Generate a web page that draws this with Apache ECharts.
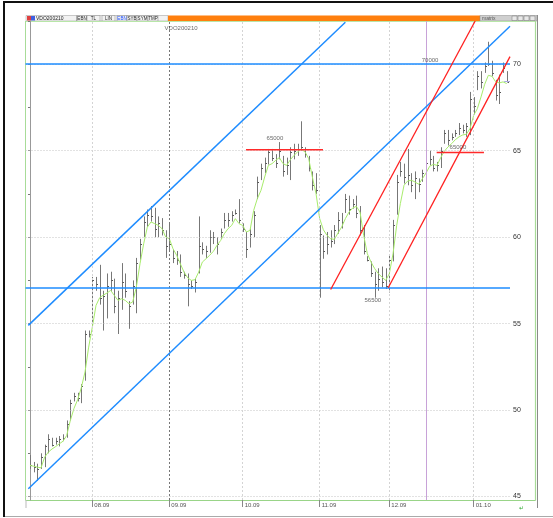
<!DOCTYPE html>
<html><head><meta charset="utf-8">
<script src="https://cdn.jsdelivr.net/npm/echarts@6/dist/echarts.min.js"></script>
<style>html,body{margin:0;padding:0;background:#fff}#c{width:553px;height:518px}</style>
</head><body><div id="c"></div>
<script>
// ---- data ----
const highs = [47.4,47.0,46.9,47.5,48.0,48.6,48.4,48.4,48.5,48.6,
49.4,50.6,51.0,51.0,51.5,54.6,54.6,57.7,57.7,58.4,
56.9,57.9,58.0,57.6,56.9,58.5,57.9,56.3,57.5,58.8,
59.9,61.2,61.6,61.8,61.7,61.2,61.1,60.4,60.8,59.3,
59.2,59.0,58.0,57.9,57.5,57.6,61.2,59.7,59.5,60.4,
60.3,60.0,60.5,61.4,61.4,61.5,61.6,62.2,60.8,60.3,
60.5,61.5,63.5,64.25,64.6,65.1,65.1,64.8,65.5,64.7,
64.6,65.2,65.4,65.4,66.7,65.2,64.7,63.8,63.7,60.7,
60.1,60.3,60.4,60.7,61.45,61.4,62.5,62.4,62.2,62.4,
61.8,60.7,58.9,58.6,58.0,58.2,58.3,58.2,59.0,61.0,
63.6,64.35,64.25,65.1,63.7,63.8,63.4,63.9,64.5,65.0,
64.7,64.35,65.2,66.2,66.2,66.0,66.2,66.6,66.5,66.6,
68.4,68.1,69.6,69.6,70.1,71.3,70.2,69.1,69.4,70.1,69.6];
const lows = [46.6,46.4,45.9,46.6,46.7,47.5,47.9,48.0,47.9,48.2,
48.4,49.4,50.5,50.5,50.4,51.7,54.2,54.8,56.9,56.1,
54.6,55.3,56.9,55.6,54.4,55.8,56.5,54.7,56.1,55.6,
58.7,60.0,60.6,60.9,60.0,60.0,60.1,58.8,59.2,58.5,
58.4,57.7,57.6,56.0,57.0,56.8,57.9,59.0,58.8,59.1,
59.6,59.0,59.9,60.5,60.6,60.9,61.3,60.8,60.3,58.8,
59.4,60.0,62.2,63.3,63.7,64.2,64.4,64.0,64.5,63.5,
63.6,63.3,64.5,64.7,65.0,64.6,63.8,62.7,62.5,56.5,
58.75,59.0,59.4,59.6,60.2,60.5,61.4,61.3,61.65,61.1,
60.1,59.0,58.6,57.7,56.5,56.9,57.1,57.0,56.8,58.6,
61.3,63.5,63.1,63.0,62.6,62.2,62.6,63.2,63.8,64.15,
63.8,63.8,64.0,65.4,65.3,65.6,65.8,65.9,66.0,65.8,
65.9,67.1,68.5,68.6,69.5,69.9,69.3,67.9,67.7,69.5,69.0];
const closes = [46.8,46.7,46.6,47.3,47.9,48.3,48.0,48.2,48.3,48.4,
49.2,50.4,50.8,50.7,51.4,54.4,54.4,57.5,57.3,56.5,
56.6,57.2,57.5,56.0,56.5,57.4,56.9,56.0,57.2,58.5,
59.6,60.9,61.3,61.2,60.5,60.8,60.4,59.5,59.6,58.8,
58.7,58.0,57.8,57.3,57.2,57.4,59.5,59.3,59.2,60.0,
60.0,59.6,60.3,61.0,61.0,61.3,61.4,61.0,60.5,59.3,
60.2,61.3,63.2,64.0,64.3,64.9,64.6,64.3,65.0,63.8,
64.2,64.9,65.0,65.1,65.2,64.8,64.0,63.0,62.7,60.2,
59.2,59.6,59.8,60.4,61.0,60.9,62.2,61.6,61.9,61.4,
60.4,59.2,58.7,57.9,57.3,57.6,57.4,57.2,58.7,60.7,
63.2,63.8,63.5,63.6,63.0,63.4,63.1,63.7,64.3,64.5,
64.0,64.2,65.0,66.0,65.6,65.8,66.0,66.3,66.2,66.4,
68.0,67.6,69.3,69.0,69.9,70.0,69.5,68.2,68.4,69.8,69.0];
const maValues = [46.8,46.75,46.7,46.66,47.28,47.57,47.75,47.89,48.05,48.2,
48.53,49.4,50.1,50.6,51.3,52.2,53.64,54.8,56.05,56.5,
56.65,56.77,56.92,56.63,56.34,56.44,56.34,56.15,56.25,57.11,
58.46,59.62,60.58,60.88,60.78,60.68,60.49,60.01,59.91,59.33,
58.95,58.46,57.98,57.65,57.5,57.54,57.98,58.56,58.75,58.95,
59.18,59.53,59.81,60.2,60.49,60.68,61.07,60.78,60.68,60.3,
60.39,61.55,62.23,62.71,63.48,64.15,64.25,64.44,64.6,64.25,
64.15,64.48,64.73,64.93,65.08,64.93,64.54,63.48,62.52,61.07,
60.43,60.1,59.91,59.87,60.24,60.59,61.07,61.45,61.69,61.78,
61.45,60.1,59.04,58.56,58.18,57.89,57.69,57.5,57.89,59.04,
60.68,61.94,63.0,63.25,63.29,63.19,63.06,63.38,63.71,64.1,
64.21,64.15,64.6,64.97,65.22,65.41,65.64,65.8,65.91,65.95,
66.28,67.05,67.43,68.11,68.84,69.36,69.3,68.98,68.92,68.98,68.88];
const lastPrice = 69.0;
const monthLabels = ['08.09','09.09','10.09','11.09','12.09','01.10'];
const monthIndex = [17,38,58,79,98,121];
const markerIndex = 38;      // dark dashed marker line (VDO200210)
const purpleIndex = 108;     // purple vertical line
const yTickLabels = [45,50,55,60,65,70];
const yMinorTicks = [45,47.5,50,52.5,55,57.5,60,62.5,65,67.5,70,72.5];
const blueChannel = [[[-0.46,54.9],[86.0,72.43]], [[-0.46,45.45],[130.9,72.2]]];
const redChannel = [[[82.0,56.97],[121.4,72.5]], [[97.7,57.07],[130.9,70.44]]];
const blueLevels = [70.0, 57.08];
const redSegments = [[[58.9,65.05],[79.9,65.05]], [[110.9,64.9],[123.8,64.9]]];
const noteTexts = ['65000','65000','56500','70000','VDO200210'];
const notePoints = [[66.8,65.69],[116.7,65.17],[93.5,56.34],[109.1,70.22],[41.2,72.1]];
// -------------------------------------

const FONT = 'Liberation Sans';
const chart = echarts.init(document.getElementById('c'), null, {renderer:'canvas'});
const X0 = 25.5, Y0 = 21, W = 484.5, H = 479;

const barData = highs.map((h,i)=>[i,h,lows[i],closes[i]]);
const series = [];

// grid lines (dummy series with markLines)
series.push({
  type:'line', data:[], silent:true, animation:false,
  markLine:{ symbol:'none', silent:true, animation:false, label:{show:false},
    data: [
      ...yTickLabels.map(v=>({yAxis:v, lineStyle:{color:'#c4c4c4', type:[1,2], width:1}})),
      ...monthIndex.filter(m=>m!==markerIndex).map(m=>({xAxis:m, lineStyle:{color:'#d4d4d4', type:[2,2], width:1}})),
      {xAxis:markerIndex, lineStyle:{color:'#777', type:[2,2], width:1}},
      {xAxis:purpleIndex, lineStyle:{color:'#c8a2d8', type:'solid', width:1}}
    ]}
});

// OHLC bars
series.push({
  type:'custom', data: barData, animation:false, z:3,
  renderItem(params, api){
    const x = api.value(0), h = api.value(1), l = api.value(2), c = api.value(3);
    const pH = api.coord([x,h]), pL = api.coord([x,l]), pC = api.coord([x,c]);
    const px = Math.round(pH[0]) + 0.5;
    const cy = Math.round(pC[1]) + 0.5;
    return {type:'group', children:[
      {type:'line', shape:{x1:px,y1:pH[1],x2:px,y2:pL[1]}, style:{stroke:'#777', lineWidth:1}},
      {type:'line', shape:{x1:px,y1:cy,x2:px+1.5,y2:cy}, style:{stroke:'#555', lineWidth:1}}
    ]};
  }
});

// moving average line
series.push({
  type:'line', data: maValues.map((v,i)=>[i,v]), showSymbol:false, symbol:'none',
  lineStyle:{color:'#a8ec6c', width:1}, animation:false, z:4
});

// blue channel
blueChannel.forEach(seg=>series.push({type:'line', data:seg, symbol:'none', clip:true,
  lineStyle:{color:'#1e8cff', width:1.5}, animation:false, z:5}));
// red channel
redChannel.forEach(seg=>series.push({type:'line', data:seg, symbol:'none', clip:true,
  lineStyle:{color:'#ff2020', width:1.3}, animation:false, z:5}));
// red horizontal segments
redSegments.forEach(seg=>series.push({type:'line', data:seg, symbol:'none', clip:true,
  lineStyle:{color:'#ff2a2a', width:1.5}, animation:false, z:5}));
// blue horizontal levels
series.push({type:'line', data:[], animation:false,
  markLine:{symbol:'none', silent:true, animation:false, label:{show:false},
    data: blueLevels.map(v=>({yAxis:v, lineStyle:{color:'#1e8cff', width:1.5, type:'solid'}}))}, z:5});
// last price marker
series.push({type:'line', data:[[129.3,lastPrice],[130.9,lastPrice]], symbol:'none', clip:true,
  lineStyle:{color:'#a9a9e0', width:1}, animation:false, z:5});

// text notes
series.push({type:'scatter', symbolSize:0, animation:false, z:6,
  data: notePoints.map((p,i)=>({value:p, name:noteTexts[i]})),
  label:{show:true, position:'inside', formatter:p=>p.name, fontSize:6, color:'#444', fontFamily:FONT}
});

// frame / toolbar graphics
const tb = [];
const tbItems = [['EBN',77,87,'#222'],['TL',87,100,'#222'],['LIN',102,115,'#222'],['EBN',117,127,'#1a4cff'],['SYB',127,137,'#222'],['SYM',137,148,'#222'],['TMP',148,158,'#222']];
tb.push({type:'rect', shape:{x:26,y:15.5,width:142,height:5.5}, style:{fill:'#f2f2f2', stroke:'#999', lineWidth:0.5}});
tb.push({type:'rect', shape:{x:27,y:16,width:4,height:4.5}, style:{fill:'#e04040'}});
tb.push({type:'rect', shape:{x:31,y:16,width:4,height:4.5}, style:{fill:'#4060e0'}});
tb.push({type:'text', style:{x:36,y:18.3,text:'VDO200210',fontSize:5,fill:'#222',fontFamily:FONT,verticalAlign:'middle'}});
tb.push({type:'line', shape:{x1:76.5,y1:15.5,x2:76.5,y2:21}, style:{stroke:'#888',lineWidth:0.5}});
tbItems.forEach(([t,a,b,col])=>{
  tb.push({type:'rect', shape:{x:a,y:15.5,width:b-a,height:5.5}, style:{fill:'#f2f2f2', stroke:'#888', lineWidth:0.5}});
  tb.push({type:'text', style:{x:(a+b)/2,y:18.3,text:t,fontSize:4.5,fill:col,fontFamily:FONT,align:'center',verticalAlign:'middle'}});
});
tb.push({type:'rect', shape:{x:168,y:15.5,width:312,height:5.5}, style:{fill:'#ff7f0e'}});
tb.push({type:'rect', shape:{x:480,y:15.5,width:57,height:5.5}, style:{fill:'#cfcfcf', stroke:'#888', lineWidth:0.5}});
tb.push({type:'text', style:{x:482,y:18.3,text:'matrix',fontSize:5,fill:'#555',fontFamily:FONT,verticalAlign:'middle'}});
[512,518,524,530].forEach(x=>tb.push({type:'rect', shape:{x:x,y:16,width:5,height:4.5}, style:{fill:'#e8e8e8', stroke:'#777', lineWidth:0.5}}));
// outer frame
tb.push({type:'rect', shape:{x:3,y:1,width:550,height:2}, style:{fill:'#111'}});
tb.push({type:'rect', shape:{x:3,y:1,width:2,height:516}, style:{fill:'#111'}});
tb.push({type:'line', shape:{x1:5,y1:516.5,x2:553,y2:516.5}, style:{stroke:'#aaa',lineWidth:1}});
// panel borders
tb.push({type:'line', shape:{x1:25.5,y1:21.5,x2:535.5,y2:21.5}, style:{stroke:'#b8e6a8',lineWidth:1}});
tb.push({type:'line', shape:{x1:25.5,y1:21,x2:25.5,y2:500}, style:{stroke:'#a8dc98',lineWidth:1}});
tb.push({type:'line', shape:{x1:535.5,y1:21,x2:535.5,y2:500.5}, style:{stroke:'#a8dc98',lineWidth:1.2}});
tb.push({type:'line', shape:{x1:25.5,y1:500.5,x2:535.5,y2:500.5}, style:{stroke:'#99d488',lineWidth:1.2}});
tb.push({type:'line', shape:{x1:537.5,y1:15,x2:537.5,y2:508}, style:{stroke:'#8a8a8a',lineWidth:1}});
tb.push({type:'line', shape:{x1:26,y1:500,x2:26,y2:508}, style:{stroke:'#bbb',lineWidth:1}});
tb.push({type:'text', style:{x:519,y:508,text:'↵',fontSize:6,fill:'#3a3',fontFamily:'DejaVu Sans',verticalAlign:'middle'}});

chart.setOption({
  animation:false,
  backgroundColor:'#fff',
  grid:{left:X0, top:Y0, width:W, height:H, containLabel:false},
  xAxis:{type:'value', min:-1.227, max:130.9,
    axisLine:{show:false},
    axisTick:{show:true, customValues:monthIndex, length:7, lineStyle:{color:'#888'}},
    axisLabel:{show:true, customValues:monthIndex, formatter:v=>monthLabels[monthIndex.indexOf(v)]||'',
      fontSize:6, color:'#555', fontFamily:FONT, align:'left', margin:2, padding:[0,0,0,2]},
    splitLine:{show:false}},
  yAxis:{type:'value', position:'right', min:44.8, max:72.5, scale:true,
    axisLine:{show:true, lineStyle:{color:'#999', width:1}},
    axisTick:{show:true, customValues:yMinorTicks, length:2, inside:true, lineStyle:{color:'#777'}},
    axisLabel:{show:true, customValues:yTickLabels, fontSize:7, color:'#333', fontFamily:FONT, margin:3},
    splitLine:{show:false}},
  series,
  graphic: tb
});
</script></body></html>
